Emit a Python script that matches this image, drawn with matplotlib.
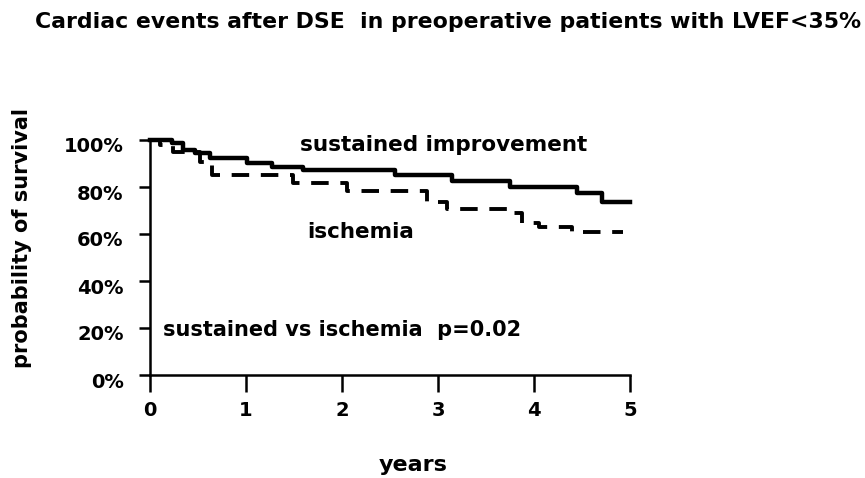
import matplotlib
matplotlib.use("Agg")
import matplotlib.pyplot as plt
from matplotlib.ticker import FuncFormatter
from matplotlib.transforms import ScaledTranslation

# ---- data ----
sust_t = [0, 0.23, 0.34, 0.47, 0.625, 1.01, 1.27, 1.59, 2.55, 3.15, 3.75, 4.45, 4.71, 5.0]
sust_s = [100, 98.7, 95.7, 94.5, 92.3, 90.2, 88.5, 87.2, 85.1, 82.6, 80.0, 77.4, 73.5, 73.5]

isch_t = [0, 0.10, 0.24, 0.52, 0.65, 1.49, 2.05, 2.89, 3.09, 3.75, 3.88, 4.05, 4.40, 4.93]
isch_s = [100, 98.0, 94.9, 90.6, 85.1, 81.7, 78.3, 73.6, 70.6, 68.9, 64.7, 63.0, 60.9, 60.9]

x_ticks = [0, 1, 2, 3, 4, 5]
y_ticks = [0, 20, 40, 60, 80, 100]

title = "Cardiac events after DSE  in preoperative patients with LVEF<35%"
label_sust = "sustained improvement"
label_isch = "ischemia"
p_text = "sustained vs ischemia  p=0.02"

plt.rcParams['font.family'] = ['DejaVu Sans']
fig = plt.figure(figsize=(8.65, 4.78), dpi=100)
ax = fig.add_axes([150/865, 1-375/478, (630-150)/865, (375-140)/478])

ax.step(sust_t, sust_s, where='post', color='black', lw=3.2, clip_on=False)
ax.step(isch_t, isch_s, where='post', color='black', lw=2.8, dashes=(4.5, 3), clip_on=False)

ax.set_xlim(0, 5)
ax.set_ylim(0, 100)
ax.set_xticks(x_ticks)
ax.set_yticks(y_ticks)
ax.yaxis.set_major_formatter(FuncFormatter(lambda v, p: f"{int(v)}%"))
for s in ['top', 'right']:
    ax.spines[s].set_visible(False)
for s in ['left', 'bottom']:
    ax.spines[s].set_linewidth(1.8)
ax.tick_params(axis='x', length=12, width=1.8, direction='out', pad=7, labelsize=14)
ax.tick_params(axis='y', length=8, width=1.8, direction='out', pad=11, labelsize=14)
off = ScaledTranslation(0, -5/100, fig.dpi_scale_trans)
for lab in ax.get_xticklabels():
    lab.set_fontweight('bold')
for lab in ax.get_yticklabels():
    lab.set_fontweight('bold')
    lab.set_transform(lab.get_transform() + off)

ax.text(1.56, 98, label_sust, fontsize=15.5, fontweight='bold', va='center', ha='left')
ax.text(1.64, 61, label_isch, fontsize=15.5, fontweight='bold', va='center', ha='left')
ax.text(0.14, 19, p_text, fontsize=15, fontweight='bold', va='center', ha='left')

fig.text(448/865, 1-22/478, title, fontsize=15.8, fontweight='bold', ha='center', va='center')
fig.text(413/865, 1-465/478, "years", fontsize=16, fontweight='bold', ha='center', va='center')
fig.text(22/865, 1-238/478, "probability of survival", fontsize=15, fontweight='bold',
         ha='center', va='center', rotation=90)

fig.savefig("out.png", dpi=100)
